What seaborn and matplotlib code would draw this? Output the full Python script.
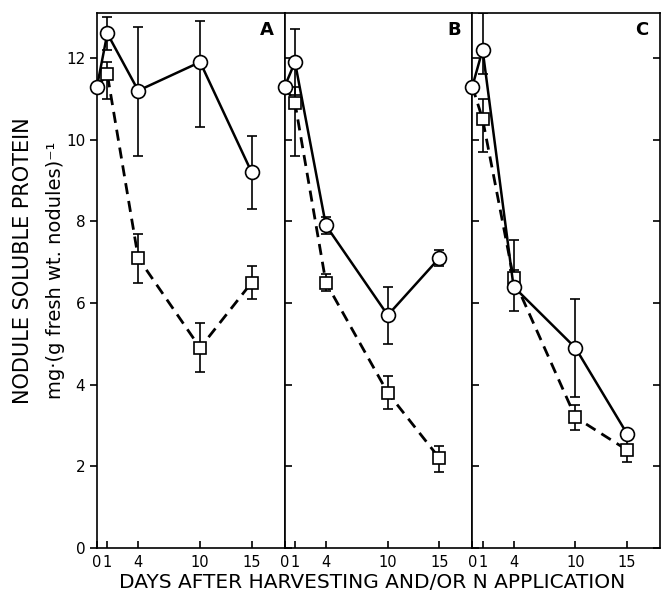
import numpy as np
import pandas as pd
import matplotlib
matplotlib.use("Agg")
import matplotlib.pyplot as plt
import seaborn as sns

# --- data ---
days = [0, 1, 4, 10, 15]
panels = ["A", "B", "C"]

circle_mean = {
    "A": [11.3, 12.6, 11.2, 11.9, 9.2],
    "B": [11.3, 11.9, 7.9, 5.7, 7.1],
    "C": [11.3, 12.2, 6.4, 4.9, 2.8],
}
circle_lo = {
    "A": [11.3, 12.2, 9.6, 10.3, 8.3],
    "B": [11.3, 11.1, 7.7, 5.0, 6.9],
    "C": [11.3, 11.6, 5.8, 3.7, 2.7],
}
circle_hi = {
    "A": [11.3, 13.0, 12.75, 12.9, 10.1],
    "B": [11.3, 12.7, 8.1, 6.4, 7.3],
    "C": [11.3, 13.1, 7.55, 6.1, 2.9],
}
square_mean = {
    "A": [11.3, 11.6, 7.1, 4.9, 6.5],
    "B": [11.3, 10.9, 6.5, 3.8, 2.2],
    "C": [11.3, 10.5, 6.6, 3.2, 2.4],
}
square_lo = {
    "A": [11.3, 11.0, 6.5, 4.3, 6.1],
    "B": [11.3, 9.6, 6.3, 3.4, 1.87],
    "C": [11.3, 9.7, 6.4, 2.9, 2.1],
}
square_hi = {
    "A": [11.3, 11.9, 7.7, 5.5, 6.9],
    "B": [11.3, 11.3, 6.7, 4.2, 2.5],
    "C": [11.3, 11.0, 6.8, 3.5, 2.7],
}

sns.set_style("ticks")
plt.rcParams['font.family'] = ['DejaVu Sans']
for k in ["text.color", "axes.labelcolor", "xtick.color", "ytick.color", "axes.edgecolor"]:
    plt.rcParams[k] = "black"

fig = plt.figure(figsize=(6.69, 5.93), dpi=100)
left, right, bottom, top = 0.145, 0.9865, 0.076, 0.978
w = (right - left) / 3

for i, p in enumerate(panels):
    ax = fig.add_axes([left + i * w, bottom, w, top - bottom])
    df_c = pd.DataFrame({"day": days, "val": circle_mean[p]})
    df_s = pd.DataFrame({"day": days, "val": square_mean[p]})

    sns.lineplot(data=df_s, x="day", y="val", ax=ax, color="black", lw=2,
                 dashes=False, linestyle=(0, (4, 2.5)), marker="s", markersize=8.5,
                 markerfacecolor="white", markeredgecolor="black", markeredgewidth=1.2,
                 markevery=[1, 2, 3, 4], zorder=3, clip_on=False)
    sns.lineplot(data=df_c, x="day", y="val", ax=ax, color="black", lw=1.8,
                 marker="o", markersize=10, markerfacecolor="white",
                 markeredgecolor="black", markeredgewidth=1.2, zorder=4, clip_on=False)

    for mean, lo, hi in [(circle_mean[p], circle_lo[p], circle_hi[p]),
                         (square_mean[p], square_lo[p], square_hi[p])]:
        mean = np.array(mean)
        yerr = [mean - np.array(lo), np.array(hi) - mean]
        ax.errorbar(days[1:], mean[1:], yerr=[yerr[0][1:], yerr[1][1:]], fmt="none",
                    ecolor="black", elinewidth=1.2, capsize=3.5, capthick=1.2, zorder=2)

    ax.set_xlim(0, 18.2)
    ax.set_ylim(0, 13.1)
    ax.set_xticks(days)
    ax.set_xticklabels(["0", "1", "4", "10", "15"], fontsize=10.5)
    ax.tick_params(axis="x", direction="in", length=5, width=1.2, pad=5)
    ax.set_yticks(range(0, 13, 2))
    ax.set_xlabel("")
    ax.set_ylabel("")
    for s in ax.spines.values():
        s.set_linewidth(1.2)
    if i == 0:
        ax.tick_params(axis="y", direction="out", length=5, width=1.2, labelsize=11)
    else:
        ax.tick_params(axis="y", direction="in", length=5, width=1.2, labelleft=False)
    if i == 2:
        ax.tick_params(axis="y", which="both", right=True, labelright=False)
    ax.text(0.94, 0.985, p, transform=ax.transAxes, ha="right", va="top",
            fontsize=13, fontweight="bold")

fig.text((left + right) / 2 - 0.01, 0.008, "DAYS AFTER HARVESTING AND/OR N APPLICATION",
         ha="center", va="baseline", fontsize=14.5)
fig.text(0.034, 0.56, "NODULE SOLUBLE PROTEIN", rotation=90,
         ha="center", va="center", fontsize=15)
fig.text(0.083, 0.545, "mg·(g fresh wt. nodules)⁻¹", rotation=90,
         ha="center", va="center", fontsize=14)

fig.savefig("out.png", dpi=100)
